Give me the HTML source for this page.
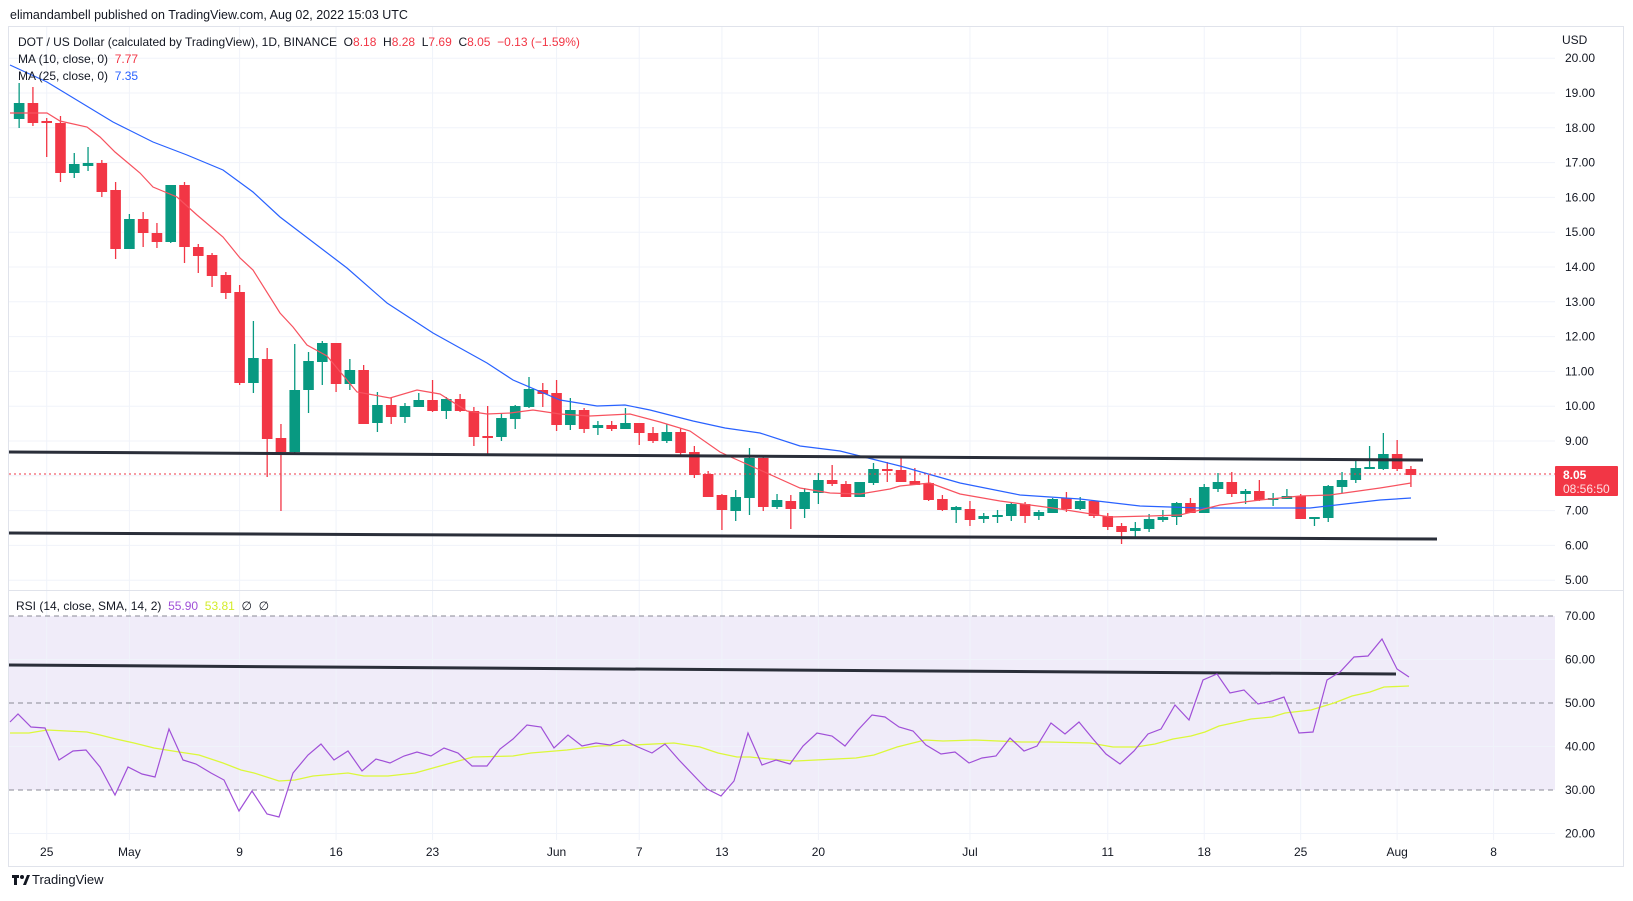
<!DOCTYPE html>
<html><head><meta charset="utf-8"><style>
html,body{margin:0;padding:0;background:#fff;}
svg{display:block;font-family:"Liberation Sans",sans-serif;}
</style></head><body>
<svg id="s" width="1633" height="901" xmlns="http://www.w3.org/2000/svg">
<rect x="0" y="0" width="1633" height="901" fill="#fff"/>
<text x="10" y="19" font-size="12.5" fill="#131722">elimandambell published on TradingView.com, Aug 02, 2022 15:03 UTC</text>
<rect x="8.5" y="26.5" width="1615" height="840" fill="#fff" stroke="#e0e3eb"/>
<rect x="9" y="616" width="1546" height="174" fill="#f0ecf9"/>
<g id="grid" stroke="#f0f3fa" stroke-width="1"></g>
<line x1="9" y1="590.5" x2="1623" y2="590.5" stroke="#e0e3eb"/>
<g stroke="#8a8a95" stroke-dasharray="5,4" stroke-width="1">
<line x1="9" y1="616" x2="1555" y2="616"/><line x1="9" y1="703" x2="1555" y2="703"/><line x1="9" y1="790" x2="1555" y2="790"/>
</g>
<g id="ax" font-size="12" fill="#131722"></g>
<g id="cd"></g>
<polyline id="ma25" fill="none" stroke="#2962ff" stroke-width="1.2"/>
<polyline id="ma10" fill="none" stroke="#f7525f" stroke-width="1.2"/>
<line x1="9" y1="452" x2="1423" y2="460" stroke="#2a2e39" stroke-width="3"/>
<line x1="9" y1="533" x2="1437" y2="539" stroke="#2a2e39" stroke-width="3"/>
<line x1="9" y1="474" x2="1555" y2="474" stroke="#f23645" stroke-dasharray="2,3"/>
<rect x="1555" y="466" width="63" height="30" fill="#f23645" rx="1"/>
<text x="1563" y="479" font-size="12" font-weight="bold" fill="#fff">8.05</text>
<text x="1563" y="493" font-size="12" fill="#fde0e3">08:56:50</text>
<polyline id="sma" fill="none" stroke="#dcf83a" stroke-width="1.3"/>
<line x1="9" y1="665" x2="1396" y2="674" stroke="#2a2e39" stroke-width="3"/>
<polyline id="rsi" fill="none" stroke="#a050d8" stroke-width="1.2"/>
<text x="18" y="46" font-size="12" fill="#131722">DOT / US Dollar (calculated by TradingView), 1D, BINANCE&#160;&#160;O<tspan fill="#f23645">8.18</tspan>&#160;&#160;H<tspan fill="#f23645">8.28</tspan>&#160;&#160;L<tspan fill="#f23645">7.69</tspan>&#160;&#160;C<tspan fill="#f23645">8.05</tspan>&#160;&#160;<tspan fill="#f23645">−0.13 (−1.59%)</tspan></text>
<text x="18" y="63" font-size="12" fill="#131722">MA (10, close, 0)&#160;&#160;<tspan fill="#f23645">7.77</tspan></text>
<text x="18" y="80" font-size="12" fill="#131722">MA (25, close, 0)&#160;&#160;<tspan fill="#2962ff">7.35</tspan></text>
<text x="16" y="610" font-size="12" fill="#131722">RSI (14, close, SMA, 14, 2)&#160;&#160;<tspan fill="#a050d8">55.90</tspan>&#160;&#160;<tspan fill="#d4ec2a">53.81</tspan>&#160;&#160;∅&#160;&#160;∅</text>
<text x="1562" y="44" font-size="12" fill="#131722">USD</text>
<g transform="translate(12,872)"><rect x="0" y="3" width="7" height="3" fill="#131722"/><rect x="2" y="3" width="3" height="10" fill="#131722"/><circle cx="10" cy="5" r="2" fill="#131722"/><path d="M11 13 L15 3 L18 3 L14 13Z" fill="#131722"/></g>
<text x="32" y="884" font-size="13" fill="#131722">TradingView</text>
</svg>
<script>
var NS="http://www.w3.org/2000/svg",S=document.getElementById('s');
function X(d){return 46.7+13.78*d;}
function el(p,t,a,txt){var e=document.createElementNS(NS,t);for(var k in a)e.setAttribute(k,a[k]);if(txt!=null)e.textContent=txt;document.getElementById(p).appendChild(e);return e;}
var dates=[[0,"25"],[6,"May"],[14,"9"],[21,"16"],[28,"23"],[37,"Jun"],[43,"7"],[49,"13"],[56,"20"],[67,"Jul"],[77,"11"],[84,"18"],[91,"25"],[98,"Aug"],[105,"8"]];
dates.forEach(function(a){var x=X(a[0]);el('grid','line',{x1:x,y1:27,x2:x,y2:840});el('ax','text',{x:x,y:856,'text-anchor':'middle'},a[1]);});
for(var p=5;p<=20;p++){var y=93+(19-p)*34.8;el('grid','line',{x1:9,y1:y,x2:1555,y2:y});el('ax','text',{x:1565,y:y+4},p.toFixed(2));}
[70,60,50,40,30,20].forEach(function(v){var y=616+(70-v)*4.35;if(v%20==0)el('grid','line',{x1:9,y1:y,x2:1555,y2:y});el('ax','text',{x:1565,y:y+4},v.toFixed(2));});
var C=[[-2,103,119,83,128,1],[-1,103,123,87,126,0],[0,121,123,118,157,0],[1,123,173,116,182,0],[2,164,173,153,178,1],[3,163,166,147,171,1],[4,163,192,160,197,0],[5,190,249,182,259,0],[6,219,249,214,249,1],[7,219,233,212,247,0],[8,233,242,223,248,0],[9,185,242,185,243,1],[10,185,247,182,263,0],[11,247,256,244,273,0],[12,255,276,253,287,0],[13,275,293,272,299,0],[14,292,383,285,385,0],[15,358,383,321,393,1],[16,359,439,348,477,0],[17,438,452,424,511,0],[18,390,452,344,455,1],[19,361,390,352,413,1],[20,343,362,341,385,1],[21,343,384,343,392,0],[22,370,384,359,390,1],[23,370,424,365,424,0],[24,405,423,392,432,1],[25,405,417,398,424,0],[26,406,417,403,423,1],[27,400,407,393,407,1],[28,400,411,380,412,0],[29,399,411,397,419,1],[30,399,411,394,412,0],
[31,411,437,407,446,0],[32,436,437,406,455,0],[33,418,437,413,441,1],[34,406,419,405,429,1],[35,389,407,377,408,1],[36,390,394,383,407,0],[37,393,425,380,431,0],[38,410,425,398,430,1],[39,410,429,408,433,0],[40,425,428,421,435,1],[41,425,429,421,431,0],[42,423,429,408,429,1],[43,423,433,423,445,0],[44,433,441,427,443,0],[45,432,441,424,443,1],[46,432,453,428,456,0],[47,452,475,446,478,0],[48,474,497,471,497,0],[49,495,510,494,530,0],[50,497,511,490,521,1],[51,458,498,448,515,1],[52,458,507,456,511,0],[53,500,507,494,509,1],[54,501,509,495,529,0],[55,492,509,488,518,1],[56,480,493,473,504,1],[57,480,484,465,486,0],[58,484,497,481,497,0],[59,482,497,482,497,1],[60,469,483,463,485,1],[61,469,471,462,482,0],[62,470,482,457,482,0],[63,481,485,468,485,0],
[64,483,500,475,501,0],[65,499,510,495,511,0],[66,507,510,506,523,1],[67,509,520,501,526,0],[68,516,519,513,523,1],[69,515,517,510,523,1],[70,504,516,503,521,1],[71,504,516,502,523,0],[72,512,516,510,520,1],[73,499,513,498,513,1],[74,498,509,492,512,0],[75,501,509,497,510,1],[76,501,516,501,518,0],[77,516,527,513,530,0],[78,526,532,523,544,0],[79,528,531,522,537,1],[80,519,529,514,532,1],[81,517,520,510,522,1],[82,503,517,502,525,1],[83,503,513,498,513,0],[84,487,513,484,513,1],[85,482,489,473,492,1],[86,482,494,472,497,0],[87,491,494,489,504,1],[88,491,500,480,501,0],[89,498,500,493,506,1],[90,496,499,489,499,1],[91,496,519,494,519,0],[92,517,519,517,526,1],[93,486,518,485,522,1],[94,480,487,472,493,1],[95,468,480,460,483,1],[96,467,469,446,469,1],[97,454,469,433,470,1],[98,454,469,440,471,0],[99,469,475,466,487,0]];
C.forEach(function(c){var x=X(c[0]),col=c[5]?'#089981':'#f23645';el('cd','line',{x1:x,y1:c[3],x2:x,y2:c[4],stroke:col,'stroke-width':1.3});var h=Math.max(2,c[2]-c[1]);el('cd','rect',{x:x-5.3,y:c[1],width:10.6,height:h,fill:col});});
function P(id,a){var s=[];for(var i=0;i<a.length;i+=2)s.push(a[i]+','+a[i+1]);document.getElementById(id).setAttribute('points',s.join(' '));}
P('ma25',[10,65,47,82,113,122,153,142,187,155,223,170,253,192,280,217,347,268,387,303,433,333,460,348,487,363,513,380,560,400,597,406,625,405,650,410,693,421,725,428,760,433,800,446,840,451,880,461,900,466,960,483,1020,495,1080,499,1140,506,1200,508,1260,508,1310,508,1380,500,1411,498]);
P('ma10',[10,113,47,113,60,121,87,127,100,137,115,152,140,173,153,187,177,197,197,215,223,237,240,258,253,270,280,313,293,327,307,345,327,356,357,392,390,398,417,390,440,394,467,411,487,414,510,413,533,410,560,414,590,416,630,414,660,422,690,431,720,452,733,458,760,470,800,488,830,493,860,494,890,489,900,486,930,483,960,494,1000,501,1060,509,1110,517,1150,516,1180,515,1220,505,1260,500,1300,496,1330,495,1380,488,1411,483]);
P('rsi',[10,722,18,714,31,727,45,728,59,760,73,751,86,750,100,767,115,795,128,767,142,774,155,777,169,729,183,760,196,764,211,773,224,780,239,811,252,791,267,814,279,817,293,773,308,755,321,744,334,760,348,751,362,771,376,759,390,763,404,756,417,752,431,756,444,748,458,753,472,766,487,766,500,749,513,739,527,725,541,727,554,748,568,735,582,746,596,743,610,745,623,740,638,747,652,753,665,744,679,760,700,782,707,789,721,796,734,781,748,733,762,765,776,760,790,764,803,746,817,733,832,736,845,746,858,730,872,715,885,717,899,727,913,731,926,745,941,754,955,752,969,763,982,758,996,756,1010,738,1024,751,1037,746,1051,723,1065,734,1079,722,1093,739,1106,754,1120,764,1134,751,1148,734,1161,729,1175,705,1189,720,1203,680,1217,674,1230,693,1244,690,1258,704,1272,701,1284,697,1299,733,1313,732,1327,680,1340,672,1354,657,1368,656,1382,639,1397,669,1409,677]);
P('sma',[10,733,29,733,47,730,87,732,100,735,116,739,134,743,154,748,179,752,199,755,223,763,241,770,254,773,279,781,295,780,313,776,348,773,364,776,388,776,415,773,433,768,451,763,473,757,513,756,531,753,567,750,598,746,634,745,674,743,700,747,718,753,737,757,750,757,769,759,796,761,856,758,874,755,897,747,925,740,943,741,975,740,1021,742,1049,742,1090,743,1113,747,1136,747,1155,744,1173,739,1191,736,1205,732,1219,726,1233,723,1251,719,1272,717,1285,713,1311,710,1334,703,1352,696,1370,692,1384,687,1409,686]);
</script>
</body></html>
